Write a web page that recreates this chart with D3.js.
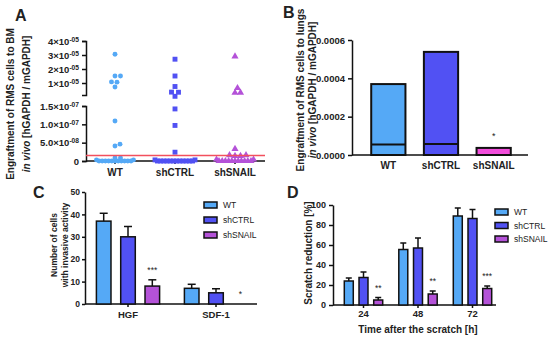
<!DOCTYPE html>
<html>
<head>
<meta charset="utf-8">
<script src="https://cdn.jsdelivr.net/npm/d3@7"></script>
<style>
  body { margin: 0; background: #fff; }
  text { font-family: "Liberation Sans", Arial, sans-serif; fill: #222; }
</style>
</head>
<body>
<div id="app"></div>
<script>
/*global d3*/

// groups shared by every panel
const groups = ['WT', 'shCTRL', 'shSNAIL'];
const groupColors = ['#55a9f6', '#5151f3', '#b452d8'];

// A: engraftment to BM, one value per mouse
const bmWT = [3.05e-5, 1.5e-5, 1.5e-5, 1.08e-5, 1.06e-5, 7.1e-6, 1.09e-7, 4.6e-8, 4.1e-8, 8e-9, 8e-9,
  3e-9, 3e-9, 0, 0, 0, 0, 0, 0, 0, 0, 0, 0, 0];
const bmCTRL = [2.7e-5, 1.5e-5, 7.5e-6, 3.5e-6, 3.4e-6, 5e-7, 1.42e-7, 9.7e-8, 2.4e-8,
  3e-9, 3e-9, 0, 0, 0, 0, 0, 0, 0, 0, 0, 0, 0, 0];
const bmSNAIL = [2.9e-5, 6.4e-6, 3.1e-6, 3.0e-6, 3.3e-8, 1.6e-8, 1.6e-8, 1.4e-8, 1.4e-8,
  4e-9, 4e-9, 0, 0, 0, 0, 0, 0, 0, 0, 0, 0, 0];
const bmCutoff = 1.5e-8;
const aTopTicks = [1e-5, 2e-5, 3e-5, 4e-5];
const aTopLabels = [['1×10', '-05'], ['2×10', '-05'], ['3×10', '-05'], ['4×10', '-05']];
const aLowTicks = [0, 5e-8, 1e-7, 1.5e-7];
const aLowLabels = [['0', ''], ['5.0×10', '-08'], ['1.0×10', '-07'], ['1.5×10', '-07']];

// B: engraftment to lungs (bar = max, line = mean)
const lungMax = [3.7e-4, 5.38e-4, 3.7e-5];
const lungMean = [5.5e-5, 5.8e-5, null];
const lungStars = ['', '', '*'];
const bTicks = [0, 2e-4, 4e-4, 6e-4];
const bSnailColor = '#f24ddc';

// C: invasion
const cCategories = ['HGF', 'SDF-1'];
const cWT = [37, 7];
const cCTRL = [30, 5];
const cSNAIL = [8, 0];
const cWTerr = [3.5, 1.8];
const cCTRLerr = [4.6, 1.8];
const cSNAILerr = [2.8, 0];
const cStars = ['***', '*'];
const cTicks = [0, 10, 20, 30, 40, 50];

// D: scratch assay
const dCategories = ['24', '48', '72'];
const dWT = [24, 55.5, 89];
const dCTRL = [27.5, 57, 86.5];
const dSNAIL = [5, 11, 16.5];
const dWTerr = [3, 6.5, 8];
const dCTRLerr = [5.5, 10, 9];
const dSNAILerr = [2.5, 3, 2.5];
const dStars = ['**', '**', '***'];
const dTicks = [0, 20, 40, 60, 80, 100];

(async () => {

  const svg = d3.select('#app')
    .append('svg')
    .attr('width', 550)
    .attr('height', 339)
    .style('display', 'block');

  const styleAxis = g => {
    g.selectAll('path, line').attr('stroke', '#111').attr('stroke-width', 1.5);
    g.selectAll('text').style('font-weight', 'bold').attr('fill', '#222');
  };

  // superscript tick labels
  const supLabels = (g, labels, size) => {
    g.selectAll('.tick text').each(function (d, i) {
      const t = d3.select(this).text('').style('font-size', size + 'px');
      t.append('tspan').text(labels[i][0]);
      if (labels[i][1]) {
        t.append('tspan').attr('dy', '-0.45em').style('font-size', (size * 0.7) + 'px').text(labels[i][1]);
      }
    });
  };

  const panelLabel = (x, y, s) => svg.append('text')
    .attr('x', x).attr('y', y).text(s)
    .style('font-size', '16px').style('font-weight', 'bold').attr('fill', '#000');

  const yTitle = (x, cy, lines, size, gap) => {
    const t = svg.append('text')
      .attr('transform', `translate(${x},${cy}) rotate(-90)`)
      .attr('text-anchor', 'middle')
      .style('font-size', size + 'px').style('font-weight', 'bold');
    lines.forEach((ln, i) => {
      const row = t.append('tspan').attr('x', 0).attr('dy', i === 0 ? 0 : gap);
      ln.forEach(part => row.append('tspan').text(part[0]).style('font-style', part[1] ? 'italic' : 'normal'));
    });
  };

  // ================= A =================
  panelLabel(15, 21, 'A');
  const aTop = d3.scaleLinear().domain([1.43e-6, 4e-5]).range([95, 41]);
  const aLow = d3.scaleLinear().domain([0, 1.5e-7]).range([161, 106]);
  const aY = v => v >= 2e-7 ? aTop(v) : aLow(v);
  const aX = d3.scalePoint().domain(groups).range([115, 235]);

  const aTopAxis = svg.append('g').attr('transform', 'translate(86,0)')
    .call(d3.axisLeft(aTop).tickValues(aTopTicks).tickSize(4).tickSizeOuter(4).tickPadding(3).tickFormat(''));
  styleAxis(aTopAxis);
  supLabels(aTopAxis, aTopLabels, 9.5);
  const aLowAxis = svg.append('g').attr('transform', 'translate(86,0)')
    .call(d3.axisLeft(aLow).tickValues(aLowTicks).tickSize(4).tickSizeOuter(4).tickPadding(3).tickFormat(''));
  styleAxis(aLowAxis);
  supLabels(aLowAxis, aLowLabels, 9.5);

  svg.append('line').attr('x1', 86).attr('x2', 265).attr('y1', aLow(0)).attr('y2', aLow(0))
    .attr('stroke', '#111').attr('stroke-width', 1.5);
  svg.append('g').selectAll('line').data(groups).join('line')
    .attr('x1', d => aX(d)).attr('x2', d => aX(d))
    .attr('y1', aLow(0)).attr('y2', aLow(0) + 3)
    .attr('stroke', '#111').attr('stroke-width', 1.5);
  svg.append('g').selectAll('text').data(groups).join('text')
    .attr('x', d => aX(d)).attr('y', 176).attr('text-anchor', 'middle')
    .style('font-size', '10px').style('font-weight', 'bold').text(d => d);

  // scatter layout: zeros in a packed row, the rest as a beeswarm
  const swarm = (values, cx) => {
    const zeros = values.filter(v => v === 0);
    const placed = zeros.map((v, i) => ({
      v, y: aY(0), x: cx + (i - (zeros.length - 1) / 2) * 3.2, zero: true
    }));
    values.filter(v => v > 0)
      .map(v => ({ v, y: aY(v) }))
      .sort((a, b) => b.y - a.y)
      .forEach(p => {
        for (let k = 0; k < 400; k++) {
          const off = (k % 2 ? 1 : -1) * Math.ceil(k / 2) * 0.5;
          const ok = placed.every(q => Math.hypot(q.x - (cx + off), q.y - p.y) >= (q.zero ? 2.6 : 5.2));
          if (ok) { p.x = cx + off; break; }
        }
        placed.push(p);
      });
    return placed;
  };

  const aSeries = [bmWT, bmCTRL, bmSNAIL];
  const aSymbols = [d3.symbolCircle, d3.symbolSquare, d3.symbolTriangle];
  const aSizes = [19, 24, 22];
  aSeries.forEach((vals, gi) => {
    const pts = swarm(vals, aX(groups[gi]));
    svg.append('g').selectAll('path').data(pts).join('path')
      .attr('d', d3.symbol(aSymbols[gi], aSizes[gi]))
      .attr('transform', d => `translate(${d.x},${d.y})`)
      .attr('fill', groupColors[gi]);
  });

  svg.append('line').attr('x1', 86).attr('x2', 265)
    .attr('y1', aLow(bmCutoff)).attr('y2', aLow(bmCutoff))
    .attr('stroke', '#f2505e').attr('stroke-width', 1.3);

  yTitle(14, 104, [[['Engraftment of RMS cells to BM', false]],
    [['in vivo', true], [' [hGAPDH / mGAPDH]', false]]], 10, 16);

  // ================= B =================
  panelLabel(283, 18, 'B');
  const bY = d3.scaleLinear().domain([0, 6e-4]).range([155, 40]);
  const bX = d3.scaleBand().domain(groups).range([362, 520]).paddingInner(0.35).paddingOuter(0.175);
  const bAxis = svg.append('g').attr('transform', 'translate(352,0)')
    .call(d3.axisLeft(bY).tickValues(bTicks).tickSize(4).tickSizeOuter(0).tickPadding(3).tickFormat(d3.format('.4f')));
  styleAxis(bAxis);
  bAxis.selectAll('text').style('font-size', '9.5px');
  svg.append('line').attr('x1', 352).attr('x2', 528).attr('y1', bY(0)).attr('y2', bY(0))
    .attr('stroke', '#111').attr('stroke-width', 1.5);

  const bColors = [groupColors[0], groupColors[1], bSnailColor];
  svg.append('g').selectAll('rect').data(lungMax).join('rect')
    .attr('x', (d, i) => bX(groups[i]))
    .attr('width', bX.bandwidth())
    .attr('y', d => bY(d))
    .attr('height', d => bY(0) - bY(d))
    .attr('fill', (d, i) => bColors[i])
    .attr('stroke', '#111').attr('stroke-width', 2);
  svg.append('g').selectAll('line').data(lungMean.map((m, i) => ({ m, i })).filter(d => d.m != null)).join('line')
    .attr('x1', d => bX(groups[d.i])).attr('x2', d => bX(groups[d.i]) + bX.bandwidth())
    .attr('y1', d => bY(d.m)).attr('y2', d => bY(d.m))
    .attr('stroke', '#111').attr('stroke-width', 2);
  svg.append('g').selectAll('text').data(lungStars).join('text')
    .attr('x', (d, i) => bX(groups[i]) + bX.bandwidth() / 2)
    .attr('y', (d, i) => bY(lungMax[i]) - 9)
    .attr('text-anchor', 'middle').style('font-size', '9px').attr('fill', '#444').text(d => d);
  svg.append('g').selectAll('text').data(groups).join('text')
    .attr('x', d => bX(d) + bX.bandwidth() / 2).attr('y', 169).attr('text-anchor', 'middle')
    .style('font-size', '10px').style('font-weight', 'bold').text(d => d);

  yTitle(304, 90, [[['Engraftment of RMS cells to lungs', false]],
    [['in vivo', true], [' [hGAPDH / mGAPDH]', false]]], 10, 12);

  // grouped bar helper for C and D
  const groupedBars = (cfg) => {
    const { cats, series, errs, stars, x0, x1, y, capW } = cfg;
    const data = [];
    series.forEach((s, gi) => s.forEach((v, ci) => data.push({ gi, ci, v, e: errs[gi][ci] })));
    const cx = d => x0(cats[d.ci]) + x1(groups[d.gi]) + x1.bandwidth() / 2;
    const g = svg.append('g');
    g.selectAll('rect').data(data.filter(d => d.v > 0)).join('rect')
      .attr('x', d => x0(cats[d.ci]) + x1(groups[d.gi]))
      .attr('width', x1.bandwidth())
      .attr('y', d => y(d.v))
      .attr('height', d => y(0) - y(d.v))
      .attr('fill', d => groupColors[d.gi])
      .attr('stroke', '#111').attr('stroke-width', 1.5);
    const eb = data.filter(d => d.e > 0);
    g.selectAll('line.stem').data(eb).join('line').attr('class', 'stem')
      .attr('x1', cx).attr('x2', cx)
      .attr('y1', d => y(d.v)).attr('y2', d => y(d.v + d.e))
      .attr('stroke', '#111').attr('stroke-width', 1.5);
    g.selectAll('line.cap').data(eb).join('line').attr('class', 'cap')
      .attr('x1', d => cx(d) - capW / 2)
      .attr('x2', d => cx(d) + capW / 2)
      .attr('y1', d => y(d.v + d.e)).attr('y2', d => y(d.v + d.e))
      .attr('stroke', '#111').attr('stroke-width', 1.5);
    const snail = series[2];
    g.selectAll('text').data(stars).join('text')
      .attr('x', (d, ci) => x0(cats[ci]) + x1(groups[2]) + x1.bandwidth() / 2)
      .attr('y', (d, ci) => y(snail[ci] + errs[2][ci]) - 7)
      .attr('text-anchor', 'middle').style('font-size', '8.5px').attr('fill', '#444').text(d => d);
  };

  const legend = (x, y0, dy, size) => {
    const g = svg.append('g');
    groups.forEach((name, i) => {
      g.append('rect').attr('x', x).attr('y', y0 + i * dy - 3).attr('width', 13).attr('height', 6)
        .attr('fill', groupColors[i]).attr('stroke', '#111').attr('stroke-width', 1.5);
      g.append('text').attr('x', x + 19).attr('y', y0 + i * dy + 3).style('font-size', size + 'px')
        .attr('fill', '#333').text(name);
    });
  };

  // ================= C =================
  panelLabel(33, 198, 'C');
  const cY = d3.scaleLinear().domain([0, 50]).range([304, 192]);
  const cX0 = d3.scalePoint().domain(cCategories).range([128, 216]);
  const cX1 = d3.scaleBand().domain(groups).range([-31.6, 31.6]).paddingInner(0.4);
  const cAxis = svg.append('g').attr('transform', 'translate(85,0)')
    .call(d3.axisLeft(cY).tickValues(cTicks).tickSize(3).tickSizeOuter(0).tickPadding(2));
  styleAxis(cAxis);
  cAxis.selectAll('text').style('font-size', '8.5px');
  svg.append('line').attr('x1', 85).attr('x2', 257).attr('y1', cY(0)).attr('y2', cY(0))
    .attr('stroke', '#111').attr('stroke-width', 1.5);
  svg.append('g').selectAll('line').data(cCategories).join('line')
    .attr('x1', d => cX0(d)).attr('x2', d => cX0(d)).attr('y1', cY(0)).attr('y2', cY(0) + 3)
    .attr('stroke', '#111').attr('stroke-width', 1.5);
  svg.append('g').selectAll('text').data(cCategories).join('text')
    .attr('x', d => cX0(d)).attr('y', 318).attr('text-anchor', 'middle')
    .style('font-size', '9.5px').style('font-weight', 'bold').text(d => d);
  groupedBars({
    cats: cCategories, series: [cWT, cCTRL, cSNAIL], errs: [cWTerr, cCTRLerr, cSNAILerr],
    stars: cStars, x0: cX0, x1: cX1, y: cY, capW: 8
  });
  legend(204, 205, 15, 8.5);
  yTitle(57, 245, [[['Number of cells', false]], [['with invasive activity', false]]], 8.5, 10.5);

  // ================= D =================
  panelLabel(287, 198, 'D');
  const dY = d3.scaleLinear().domain([0, 100]).range([305, 205]);
  const dX0 = d3.scalePoint().domain(dCategories).range([363.5, 472.5]);
  const dX1 = d3.scaleBand().domain(groups).range([-19.2, 19.2]).paddingInner(0.39);
  const dAxis = svg.append('g').attr('transform', 'translate(333,0)')
    .call(d3.axisLeft(dY).tickValues(dTicks).tickSize(4).tickSizeOuter(0).tickPadding(3));
  styleAxis(dAxis);
  dAxis.selectAll('text').style('font-size', '9px');
  svg.append('line').attr('x1', 333).attr('x2', 496).attr('y1', dY(0)).attr('y2', dY(0))
    .attr('stroke', '#111').attr('stroke-width', 1.5);
  svg.append('g').selectAll('line').data(dCategories).join('line')
    .attr('x1', d => dX0(d)).attr('x2', d => dX0(d)).attr('y1', dY(0)).attr('y2', dY(0) + 3)
    .attr('stroke', '#111').attr('stroke-width', 1.5);
  svg.append('g').selectAll('text').data(dCategories).join('text')
    .attr('x', d => dX0(d)).attr('y', 317).attr('text-anchor', 'middle')
    .style('font-size', '9.5px').style('font-weight', 'bold').text(d => d);
  groupedBars({
    cats: dCategories, series: [dWT, dCTRL, dSNAIL], errs: [dWTerr, dCTRLerr, dSNAILerr],
    stars: dStars, x0: dX0, x1: dX1, y: dY, capW: 6
  });
  legend(495, 212, 13.5, 8.5);
  svg.append('text').attr('x', 418).attr('y', 333).attr('text-anchor', 'middle')
    .style('font-size', '10px').style('font-weight', 'bold').text('Time after the scratch [h]');
  yTitle(312, 253, [[['Scratch reduction [%]', false]]], 10, 0);

})()
</script>
</body>
</html>
